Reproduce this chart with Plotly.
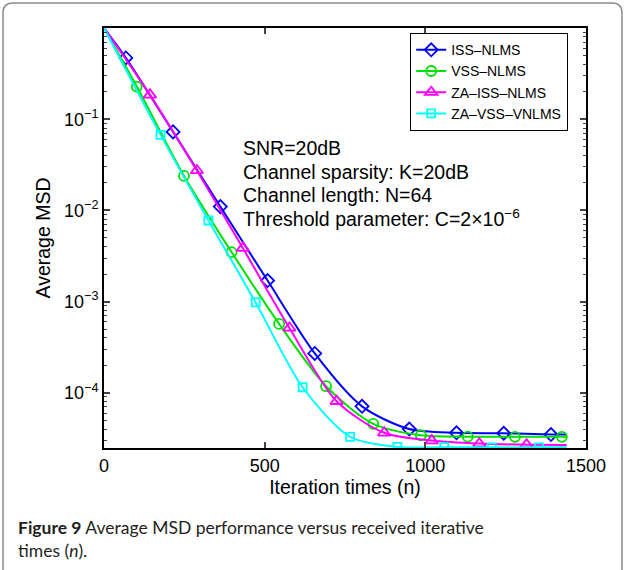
import plotly.graph_objects as go
import numpy as np

# ---- data ----
series_names = ["ISS–NLMS", "VSS–NLMS", "ZA–ISS–NLMS", "ZA–VSS–VNLMS"]

iss_n = [0, 68, 215, 362, 509, 656, 803, 950, 1097, 1244, 1391, 1440]
iss_msd = [1.0, 0.47, 0.0726, 0.011, 1.7e-3, 2.7e-4, 7.1e-5, 4.0e-5, 3.64e-5, 3.6e-5, 3.48e-5, 3.48e-5]

vss_n = [0, 102, 249, 397, 545, 691, 838, 986, 1132, 1279, 1425, 1440]
vss_msd = [1.0, 0.228, 0.0239, 3.49e-3, 5.69e-4, 1.18e-4, 4.56e-5, 3.42e-5, 3.3e-5, 3.29e-5, 3.29e-5, 3.29e-5]

zaiss_n = [0, 143, 289, 432, 577, 724, 872, 1020, 1168, 1315, 1440]
zaiss_msd = [1.0, 0.185, 0.0274, 3.86e-3, 5.14e-4, 8.07e-5, 3.64e-5, 2.99e-5, 2.77e-5, 2.70e-5, 2.68e-5]

zavss_n = [0, 176, 325, 472, 618, 766, 913, 1059, 1207, 1354, 1440]
zavss_msd = [1.0, 0.0673, 7.75e-3, 9.8e-4, 1.15e-4, 3.29e-5, 2.55e-5, 2.53e-5, 2.52e-5, 2.52e-5, 2.52e-5]

x_ticks = [0, 500, 1000, 1500]
y_ticks = [1e-4, 1e-3, 1e-2, 1e-1]
y_ticktext = ["10<sup>−4</sup>", "10<sup>−3</sup>", "10<sup>−2</sup>", "10<sup>−1</sup>"]
y_minor = [m * 10.0 ** e for e in range(-5, 0) for m in range(2, 10)]

annot_lines = ["SNR=20dB", "Channel sparsity: K=20dB", "Channel length: N=64",
               "Threshold parameter: C=2×10<sup>−6</sup>"]

colors = ["#0000ff", "#00e000", "#ff00ff", "#00ffff"]
symbols = ["diamond-open", "circle-open", "triangle-up-open", "square-open"]
msizes = [10, 10, 11, 8]

# ---- geometry helpers (pixels -> paper) ----
W, H = 625, 570
L, R, T, B = 104, 586, 28, 448
def px_x(p): return (p - L) / (R - L)
def px_y(p): return (B - p) / (B - T)

FONT = "Liberation Sans, Arial, Helvetica, sans-serif"

fig = go.Figure()
all_series = [(iss_n, iss_msd), (vss_n, vss_msd), (zaiss_n, zaiss_msd), (zavss_n, zavss_msd)]
for i, (n, v) in enumerate(all_series):
    fig.add_trace(go.Scatter(x=n, y=v, mode="lines", line=dict(color=colors[i], width=2, shape="spline", smoothing=0.8),
                             showlegend=False, hoverinfo="skip"))
    fig.add_trace(go.Scatter(x=n[1:-1], y=v[1:-1], mode="markers",
                             marker=dict(symbol=symbols[i], size=msizes[i], color=colors[i],
                                         line=dict(color=colors[i], width=1.8)),
                             showlegend=False))
for i in range(4):
    fig.add_trace(go.Scatter(x=[None], y=[None], mode="lines+markers", name=series_names[i],
                             line=dict(color=colors[i], width=2),
                             marker=dict(symbol=symbols[i], size=msizes[i], color=colors[i],
                                         line=dict(color=colors[i], width=1.8))))
# dummy trace for minor-tick axis
fig.add_trace(go.Scatter(x=[None], y=[None], yaxis="y2", showlegend=False))

yr = [np.log10(2.48e-5), 0]
fig.update_layout(
    width=W, height=H,
    margin=dict(l=L, r=W - R, t=T, b=H - B),
    paper_bgcolor="white", plot_bgcolor="white",
    font=dict(family=FONT, color="black", size=18),
    xaxis=dict(range=[0, 1500], tickvals=x_ticks, ticks="inside", ticklen=6, tickwidth=1.5,
               showline=True, linecolor="black", linewidth=2, mirror="ticks", showgrid=False,
               zeroline=False, tickfont=dict(size=18), automargin=False,
               title=dict(text="Iteration times (n)", font=dict(size=19.5), standoff=6)),
    yaxis=dict(type="log", range=yr, tickvals=y_ticks, ticktext=y_ticktext, ticks="inside",
               ticklen=6, tickwidth=1.5, showline=True, linecolor="black", linewidth=2,
               mirror="ticks", showgrid=False, zeroline=False, tickfont=dict(size=18), automargin=False,
               title=dict(text="Average MSD", font=dict(size=19.5), standoff=8)),
    yaxis2=dict(type="log", range=yr, overlaying="y", side="left", tickvals=y_minor, ticks="inside",
                ticklen=3, tickwidth=1, showticklabels=False, showline=True, linecolor="black",
                linewidth=2, mirror="ticks", showgrid=False, zeroline=False, automargin=False),
    legend=dict(x=px_x(410), y=px_y(33), xanchor="left", yanchor="top",
                bordercolor="black", borderwidth=1.2, bgcolor="white",
                font=dict(size=14, family=FONT), tracegroupgap=0, itemwidth=30),
    showlegend=True,
)

line_y = [148, 172, 195, 218]
for txt, yy in zip(annot_lines, line_y):
    fig.add_annotation(x=px_x(241), y=px_y(yy), xref="paper", yref="paper", text=txt,
                       showarrow=False, xanchor="left", yanchor="middle",
                       font=dict(size=19.5, family=FONT, color="black"))

fig.add_annotation(x=px_x(16), y=px_y(538.5), xref="paper", yref="paper",
                   text="<b>Figure 9</b> Average MSD performance versus received iterative<br>times (<i>n</i>).",
                   showarrow=False, xanchor="left", yanchor="middle", align="left",
                   font=dict(size=17.5, family="Lato, Open Sans, sans-serif", color="#231f20"))

# outer frame with rounded top corners
x0, x1 = px_x(3), px_x(622)
y0, yb = px_y(3), px_y(600)
rx = 10 / (R - L)
ry = 10 / (B - T)
path = (f"M {x0},{yb} L {x0},{y0 - ry} Q {x0},{y0} {x0 + rx},{y0} "
        f"L {x1 - rx},{y0} Q {x1},{y0} {x1},{y0 - ry} L {x1},{yb}")
fig.add_shape(type="path", path=path, xref="paper", yref="paper",
              line=dict(color="#8c8c8c", width=1.5))

fig.write_html("out.html", config={"displayModeBar": False},
               post_script="document.body.style.margin='0';")
